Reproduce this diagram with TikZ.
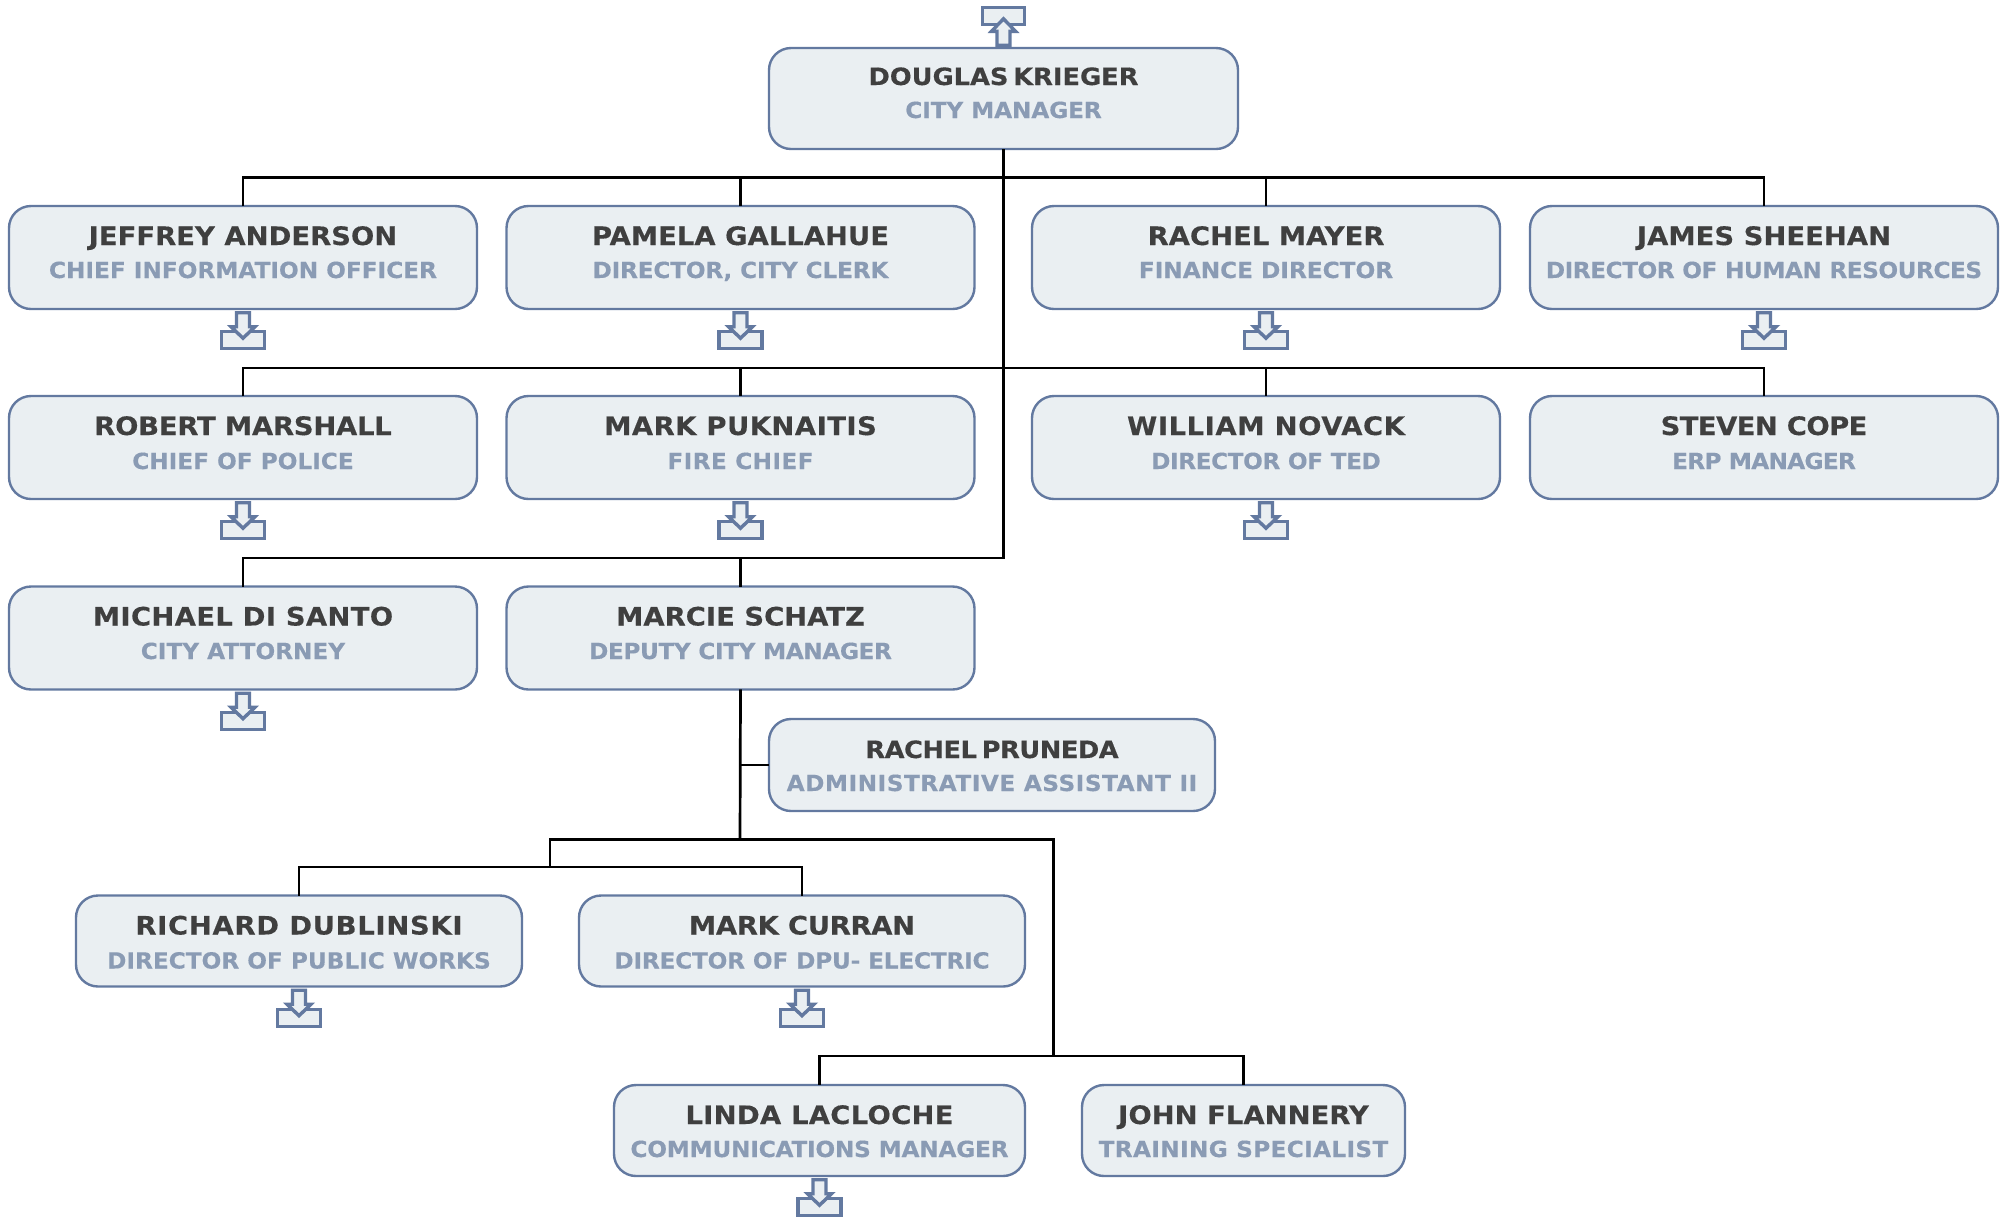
\documentclass[tikz,border=0pt]{standalone}
\usepackage{fontspec}
\setmainfont{DejaVu Sans}
\newfontfamily\namefam[FakeStretch=1.08,FakeBold=0.3]{DejaVu Sans}
\newfontfamily\titlefam[FakeStretch=1.045,FakeBold=0.3]{DejaVu Sans}
\newcommand{\ls}[2]{{\addfontfeature{LetterSpace=#1}#2}}
\newcommand{\nsmall}[2]{{\fontsize{11.9}{14}\selectfont\addfontfeature{LetterSpace=#1}\spaceskip=0.2em #2}}
\definecolor{boxfill}{HTML}{EAEFF2}
\definecolor{boxline}{HTML}{6379A0}
\definecolor{namecol}{HTML}{3F3F3F}
\definecolor{titlecol}{HTML}{8A9BB4}
\tikzset{
  person/.style={draw=boxline,fill=boxfill,line width=1.2pt,rounded corners=11pt,inner sep=0pt,text width=0pt},
  nametext/.style={anchor=base,inner sep=0pt,text=namecol,font=\namefam\fontsize{12.7}{14}\selectfont\bfseries},
  titletext/.style={anchor=base,inner sep=0pt,text=titlecol,font=\titlefam\fontsize{11.1}{13}\selectfont\bfseries},
  conn/.style={draw=black,line width=1.35pt,line cap=rect},
  iconline/.style={draw=boxline,fill=boxfill,line width=1.7pt,miter limit=10},
  downicon/.pic={
    \path[iconline] (-21.5,21.5) rectangle (21.5,38.5);
    \path[iconline] (-6.5,2.5) -- (6.5,2.5) -- (6.5,16.5) -- (12,16.5) -- (0,28) -- (-12,16.5) -- (-6.5,16.5) -- cycle;
  },
  upicon/.pic={
    \path[iconline] (-21,-39.5) rectangle (21,-22.5);
    \path[iconline] (-6.5,-1.5) -- (6.5,-1.5) -- (6.5,-15.5) -- (12,-15.5) -- (0,-28) -- (-12,-15.5) -- (-6.5,-15.5) -- cycle;
  }
}
% id, centre x, top y, width, height, name offset, title offset, name, title
\newcommand{\personbox}[9]{%
  \node[person,minimum width=#4*0.5pt,minimum height=#5*0.5pt] (#1) at (#2,{#3+#5/2}) {};
  \node[nametext] (#1n) at (#2,{#3+#6}) {#8};
  \node[titletext] (#1t) at (#2,{#3+#7}) {#9};
}
\begin{document}
\begin{tikzpicture}[x=0.5pt,y=-0.5pt]
\useasboundingbox (0,0) rectangle (2007,1217);

\coordinate (busa) at (1003.5,177.5);
\coordinate (busb) at (1003.5,368);
\coordinate (busc) at (1003.5,558);
\coordinate (busd) at (740,839.5);
\coordinate (buse) at (550,867);
\coordinate (busf) at (1053.5,1056);

\personbox{doug}{1003.5}{48}{469}{101}{37}{70}{\nsmall{0}{DOUGLAS KRIEGER}}{\ls{-0.5}{CITY MANAGER}}
\personbox{jeff}{243}{206}{468}{103}{39}{72}{JEFFREY ANDERSON}{CHIEF INFORMATION OFFICER}
\personbox{pam}{740.5}{206}{468}{103}{39}{72}{PAMELA GALLAHUE}{\ls{-0.9}{DIRECTOR, CITY CLERK}}
\personbox{mayer}{1266}{206}{468}{103}{39}{72}{RACHEL MAYER}{FINANCE DIRECTOR}
\personbox{james}{1764}{206}{468}{103}{39}{72}{JAMES SHEEHAN}{\ls{-2.1}{DIRECTOR OF HUMAN RESOURCES}}
\personbox{rob}{243}{396}{468}{103}{39}{73}{\ls{-1}{ROBERT MARSHALL}}{CHIEF OF POLICE}
\personbox{mark}{740.5}{396}{468}{103}{39}{73}{\ls{1.8}{MARK PUKNAITIS}}{\ls{1.7}{FIRE CHIEF}}
\personbox{will}{1266}{396}{468}{103}{39}{73}{\ls{2.2}{WILLIAM NOVACK}}{\ls{-1.9}{DIRECTOR OF TED}}
\personbox{steve}{1764}{396}{468}{103}{39}{73}{\ls{-2.3}{STEVEN COPE}}{\ls{-3.1}{ERP MANAGER}}
\personbox{mike}{243}{586.5}{468}{103}{39}{72.5}{\ls{1.3}{MICHAEL DI SANTO}}{CITY ATTORNEY}
\personbox{marcie}{740.5}{586.5}{468}{103}{39}{72.5}{MARCIE SCHATZ}{\ls{-1.8}{DEPUTY CITY MANAGER}}
\personbox{prun}{992}{719}{446}{92}{39}{72}{\nsmall{-2}{RACHEL PRUNEDA}}{\ls{2.35}{ADMINISTRATIVE ASSISTANT II}}
\personbox{rich}{299}{895.5}{446}{91}{39}{73}{\ls{2.7}{RICHARD DUBLINSKI}}{DIRECTOR OF PUBLIC WORKS}
\personbox{curran}{802}{895.5}{446}{91}{39}{73}{\ls{-1.4}{MARK CURRAN}}{\ls{-0.9}{DIRECTOR OF DPU- ELECTRIC}}
\personbox{linda}{819.5}{1085}{411}{91}{39}{72}{\ls{1.1}{LINDA LACLOCHE}}{\ls{-1}{COMMUNICATIONS MANAGER}}
\personbox{john}{1243.5}{1085}{323}{91}{39}{72}{JOHN FLANNERY}{\ls{1.5}{TRAINING SPECIALIST}}

\draw[conn] (doug.south) -- (busc) -- (mike.north |- busc) -- (mike.north);
\draw[conn] (marcie.north) -- (marcie.north |- busc);
\draw[conn] (jeff.north) |- (james.north |- busa) -- (james.north);
\draw[conn] (pam.north) -- (pam.north |- busa);
\draw[conn] (mayer.north) -- (mayer.north |- busa);
\draw[conn] (rob.north) |- (steve.north |- busb) -- (steve.north);
\draw[conn] (mark.north) -- (mark.north |- busb);
\draw[conn] (will.north) -- (will.north |- busb);
\draw[conn] (marcie.south) -- (busd);
\draw[conn] (marcie.south |- prun.west) -- (prun.west);
\draw[conn] (buse) -- (buse |- busd) -- (busf |- busd) -- (busf);
\draw[conn] (rich.north) |- (buse) -| (curran.north);
\draw[conn] (linda.north) |- (busf) -| (john.north);

\pic at (doug.north) {upicon};
\pic at (jeff.south) {downicon};
\pic at (pam.south) {downicon};
\pic at (mayer.south) {downicon};
\pic at (james.south) {downicon};
\pic at (rob.south) {downicon};
\pic at (mark.south) {downicon};
\pic at (will.south) {downicon};
\pic at (mike.south) {downicon};
\pic at (rich.south) {downicon};
\pic at (curran.south) {downicon};
\pic at (linda.south) {downicon};
\end{tikzpicture}
\end{document}
